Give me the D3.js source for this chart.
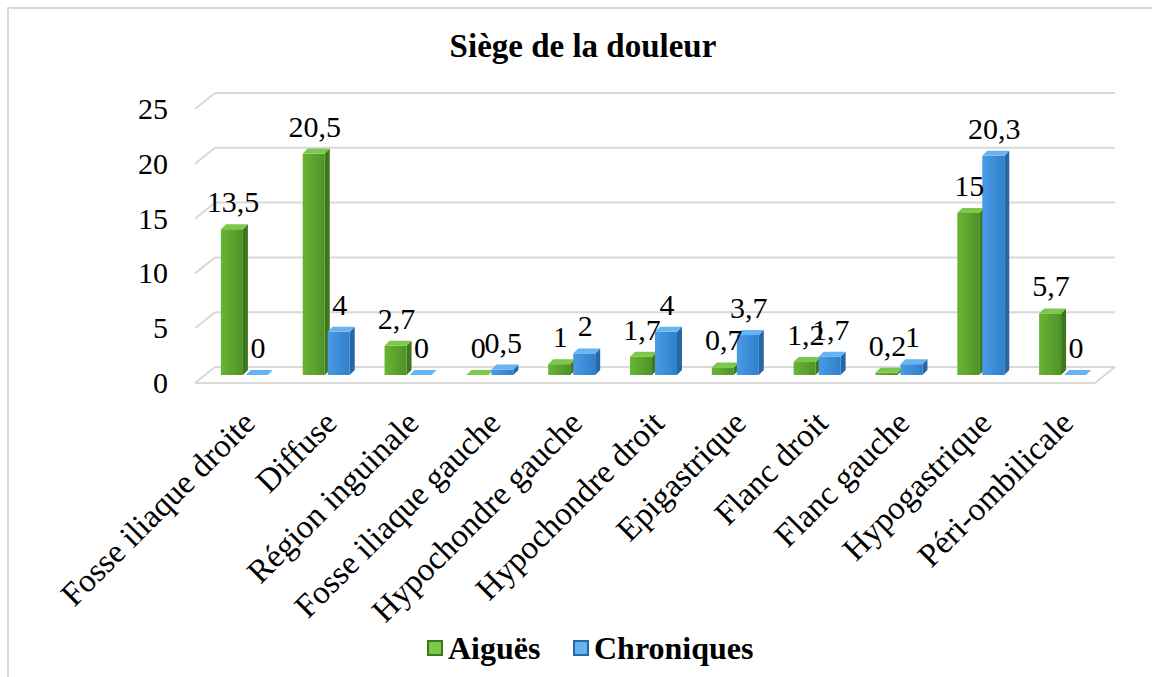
<!DOCTYPE html>
<html><head><meta charset="utf-8">
<script src="https://cdn.jsdelivr.net/npm/d3@7"></script>
<style>body{margin:0;background:#fff}svg{display:block}</style>
</head><body><svg id="c" width="1152" height="677"></svg>
<script>
const categories = ["Fosse iliaque droite","Diffuse","Région inguinale","Fosse iliaque gauche","Hypochondre gauche","Hypochondre droit","Epigastrique","Flanc droit","Flanc gauche","Hypogastrique","Péri-ombilicale"];
const aigues = [13.5,20.5,2.7,0,1,1.7,0.7,1.2,0.2,15,5.7];
const chroniques = [0,4,0,0.5,2,4,3.7,1.7,1,20.3,0];
const seriesNames = ["Aiguës","Chroniques"];
const yTicks = [0,5,10,15,20,25];
const title = "Siège de la douleur";

const FONT = '"Liberation Serif", "Times New Roman", Tinos, serif';
const svg = d3.select("#c");
const defs = svg.append("defs");
function grad(id, c1, c2){
  const g = defs.append("linearGradient").attr("id",id).attr("x1","0").attr("x2","1").attr("y1","0").attr("y2","0");
  g.append("stop").attr("offset","0").attr("stop-color",c1);
  g.append("stop").attr("offset","1").attr("stop-color",c2);
}
grad("gG","#68b535","#4f9228");
grad("gB","#4a9be4","#2f7fcb");
const colors = {
  "Aiguës":{front:"url(#gG)",side:"#3d781e",top:"#7cc94a"},
  "Chroniques":{front:"url(#gB)",side:"#2767a6",top:"#66b3f2"}
};

// frame
svg.append("rect").attr("x",8).attr("y",8).attr("width",1170).attr("height",700)
  .attr("fill","none").attr("stroke","#d9d9d9").attr("stroke-width",2);

const x = d3.scaleBand().domain(categories).range([195,1095]).paddingInner(0).paddingOuter(0);
const y = d3.scaleLinear().domain([0,25]).range([383,109]);
const yBar = d3.scaleLinear().domain([0,25]).range([375,105]);
const depth = {dx:20, dy:-16};
const mid = {dx:10};

// gridlines (back wall + left slant)
const grid = svg.append("g");
yTicks.forEach(t=>{
  const yf = y(t);
  grid.append("line").attr("x1",x.range()[0]+depth.dx).attr("x2",x.range()[1]+depth.dx)
    .attr("y1",yf+depth.dy).attr("y2",yf+depth.dy).attr("stroke","#d9d9d9").attr("stroke-width",2);
  grid.append("line").attr("x1",x.range()[0]).attr("x2",x.range()[0]+depth.dx)
    .attr("y1",yf).attr("y2",yf+depth.dy).attr("stroke","#d9d9d9").attr("stroke-width",2);
});
grid.append("line").attr("x1",x.range()[0]).attr("x2",x.range()[1]).attr("y1",y(0)).attr("y2",y(0))
  .attr("stroke","#d9d9d9").attr("stroke-width",2);
grid.append("line").attr("x1",x.range()[1]).attr("x2",x.range()[1]+depth.dx).attr("y1",y(0)).attr("y2",y(0)+depth.dy)
  .attr("stroke","#d9d9d9").attr("stroke-width",2);

// y tick labels
svg.append("g").selectAll("text").data(yTicks).join("text")
  .attr("x",168).attr("y",d=>y(d)+10).attr("text-anchor","end")
  .attr("font-family",FONT).attr("font-size",30).text(d=>d);

// bars
const bw = 22, bd = 5;
const series = [{name:"Aiguës",vals:aigues,off:-25},{name:"Chroniques",vals:chroniques,off:0}];
const barsG = svg.append("g");
const labelsG = svg.append("g");
categories.forEach((c,i)=>{
  const cx = x(c) + x.bandwidth()/2 + mid.dx;
  series.forEach(s=>{
    const v = s.vals[i];
    const x0 = cx + s.off;
    const yb = yBar(0);
    const yt = yBar(v);
    const col = colors[s.name];
    const g = barsG.append("g");
    g.append("path").attr("d",`M${x0+bw},${yt} L${x0+bw+bd},${yt-bd} L${x0+bw+bd},${yb-bd} L${x0+bw},${yb} Z`).attr("fill",col.side);
    g.append("rect").attr("x",x0).attr("y",yt).attr("width",bw).attr("height",Math.max(0,yb-yt)).attr("fill",col.front);
    g.append("path").attr("d",`M${x0},${yt} L${x0+bd},${yt-bd} L${x0+bw+bd},${yt-bd} L${x0+bw},${yt} Z`).attr("fill",col.top);
    labelsG.append("text").attr("x",x0+bw/2+1).attr("y",yt-17).attr("text-anchor","middle")
      .attr("font-family",FONT).attr("font-size",30).text(String(v).replace(".",","));
  });
});

// category labels
svg.append("g").selectAll("text").data(categories).join("text")
  .attr("transform",d=>`translate(${x(d)+x.bandwidth()/2+mid.dx+11},${425}) rotate(-45)`)
  .attr("text-anchor","end").attr("font-family",FONT).attr("font-size",33).text(d=>d);

// title
svg.append("text").attr("x",583).attr("y",57).attr("text-anchor","middle")
  .attr("font-family",FONT).attr("font-size",33).attr("font-weight","bold").text(title);

// legend
const leg = svg.append("g");
const legItems = [{n:seriesNames[0],x:428,c1:"#7cc94a",c2:"#3d781e"},{n:seriesNames[1],x:574,c1:"#66b3f2",c2:"#2767a6"}];
legItems.forEach(it=>{
  leg.append("rect").attr("x",it.x).attr("y",641).attr("width",14).attr("height",14).attr("fill",it.c1).attr("stroke",it.c2).attr("stroke-width",2);
  leg.append("text").attr("x",it.x+20).attr("y",659).attr("font-family",FONT).attr("font-size",32).attr("font-weight","bold").text(it.n);
});
</script></body></html>
